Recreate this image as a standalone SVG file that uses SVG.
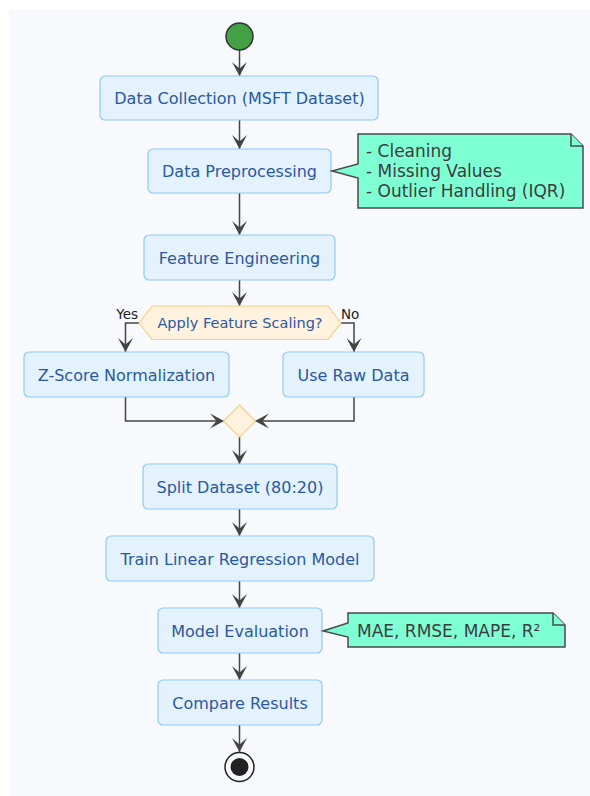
<svg xmlns="http://www.w3.org/2000/svg" width="590" height="796" viewBox="0 0 590 796">
  <style>
    .act rect { fill: #E3F2FD; stroke: #90CAF9; stroke-width: 1.2; }
    .act text { font-family: "DejaVu Sans", "Liberation Sans", sans-serif; font-size: 16px; fill: #2A58A6; text-anchor: middle; }
    .dec polygon { fill: #FFF3E0; stroke: #FFCC80; stroke-width: 1.2; }
    .dec text { font-family: "DejaVu Sans", "Liberation Sans", sans-serif; font-size: 14.5px; fill: #2A58A6; text-anchor: middle; }
    .note path { fill: #7FFFD4; stroke: #4A4A4A; stroke-width: 1.5; stroke-linejoin: miter; }
    .note text { font-family: "DejaVu Sans", "Liberation Sans", sans-serif; font-size: 17px; fill: #3C3C3C; }
    .lbl { font-family: "DejaVu Sans", "Liberation Sans", sans-serif; font-size: 13.5px; fill: #222; }
    #connectors path { fill: none; stroke: #444; stroke-width: 1.5; }
  </style>
  <defs>
    <marker id="arrow" viewBox="0 0 14 14" refX="13" refY="7" markerWidth="15" markerHeight="15" markerUnits="userSpaceOnUse" orient="auto">
      <path d="M0,0 L13,7 L0,14 L6,7 Z" fill="#444"/>
    </marker>
  </defs>

  <!-- canvas -->
  <rect x="0" y="0" width="590" height="796" fill="#FFFFFF"/>
  <rect x="9" y="9" width="581" height="787" fill="#F8F9FD"/>

  <!-- flow lines -->
  <g id="connectors">
    <path d="M239.5,50 V76" marker-end="url(#arrow)"/>
    <path d="M239.5,120 V149" marker-end="url(#arrow)"/>
    <path d="M239.5,193 V235" marker-end="url(#arrow)"/>
    <path d="M239.5,280 V306" marker-end="url(#arrow)"/>
    <path d="M139,323 H125.5 V352" marker-end="url(#arrow)"/>
    <path d="M341,323 H354 V352" marker-end="url(#arrow)"/>
    <path d="M125.5,397 V421 H224" marker-end="url(#arrow)"/>
    <path d="M354,397 V421 H255" marker-end="url(#arrow)"/>
    <path d="M239.5,437 V464" marker-end="url(#arrow)"/>
    <path d="M239.5,509 V536" marker-end="url(#arrow)"/>
    <path d="M239.5,581 V608" marker-end="url(#arrow)"/>
    <path d="M239.5,653 V680" marker-end="url(#arrow)"/>
    <path d="M239.5,725 V752" marker-end="url(#arrow)"/>
  </g>

  <g id="start">
    <circle cx="239.5" cy="36.5" r="13.5" fill="#43A047" stroke="#333" stroke-width="1.5"/>
  </g>

  <g id="data-collection" class="act">
    <rect x="100" y="76" width="278" height="44" rx="5"/>
    <text x="239.5" y="104">Data Collection (MSFT Dataset)</text>
  </g>

  <g id="data-preprocessing" class="act">
    <rect x="148" y="149" width="183" height="44" rx="5"/>
    <text x="239.5" y="177">Data Preprocessing</text>
  </g>

  <g id="note-preprocessing" class="note">
    <path d="M358,134 H571 L583,146 V208 H358 V178 L332,171 L358,164 Z"/>
    <path d="M571,134 V146 H583" fill="none"/>
    <text x="366" y="157">- Cleaning</text>
    <text x="366" y="177">- Missing Values</text>
    <text x="366" y="197">- Outlier Handling (IQR)</text>
  </g>

  <g id="feature-engineering" class="act">
    <rect x="144" y="235" width="191" height="45" rx="5"/>
    <text x="239.5" y="263.5">Feature Engineering</text>
  </g>

  <g id="scaling-decision" class="dec">
    <polygon points="139,323 152,306 328,306 341,323 328,339.5 152,339.5"/>
    <text x="240" y="328">Apply Feature Scaling?</text>
  </g>
  <text class="lbl" x="138" y="319" text-anchor="end">Yes</text>
  <text class="lbl" x="341" y="319">No</text>

  <g id="zscore" class="act">
    <rect x="24" y="352" width="205" height="45" rx="5"/>
    <text x="126.5" y="380.5">Z-Score Normalization</text>
  </g>

  <g id="raw-data" class="act">
    <rect x="283" y="352" width="141" height="45" rx="5"/>
    <text x="353.5" y="380.5">Use Raw Data</text>
  </g>

  <g id="merge" class="dec">
    <polygon points="239.5,405 255.5,421 239.5,437 223.5,421"/>
  </g>

  <g id="split" class="act">
    <rect x="143" y="464" width="194" height="45" rx="5"/>
    <text x="240" y="492.5">Split Dataset (80:20)</text>
  </g>

  <g id="train" class="act">
    <rect x="106" y="536" width="268" height="45" rx="5"/>
    <text x="240" y="564.5">Train Linear Regression Model</text>
  </g>

  <g id="evaluation" class="act">
    <rect x="158" y="608" width="164" height="45" rx="5"/>
    <text x="240" y="636.5">Model Evaluation</text>
  </g>

  <g id="note-evaluation" class="note">
    <path d="M348,613 H553 L565,625 V647 H348 V637 L323,631 L348,623 Z"/>
    <path d="M553,613 V625 H565" fill="none"/>
    <text x="357" y="637">MAE, RMSE, MAPE, R²</text>
  </g>

  <g id="compare" class="act">
    <rect x="158" y="680" width="164" height="45" rx="5"/>
    <text x="240" y="708.5">Compare Results</text>
  </g>

  <g id="end">
    <circle cx="239.5" cy="767" r="14.5" fill="none" stroke="#222" stroke-width="1.5"/>
    <circle cx="239.5" cy="767" r="9" fill="#222"/>
  </g>
</svg>
